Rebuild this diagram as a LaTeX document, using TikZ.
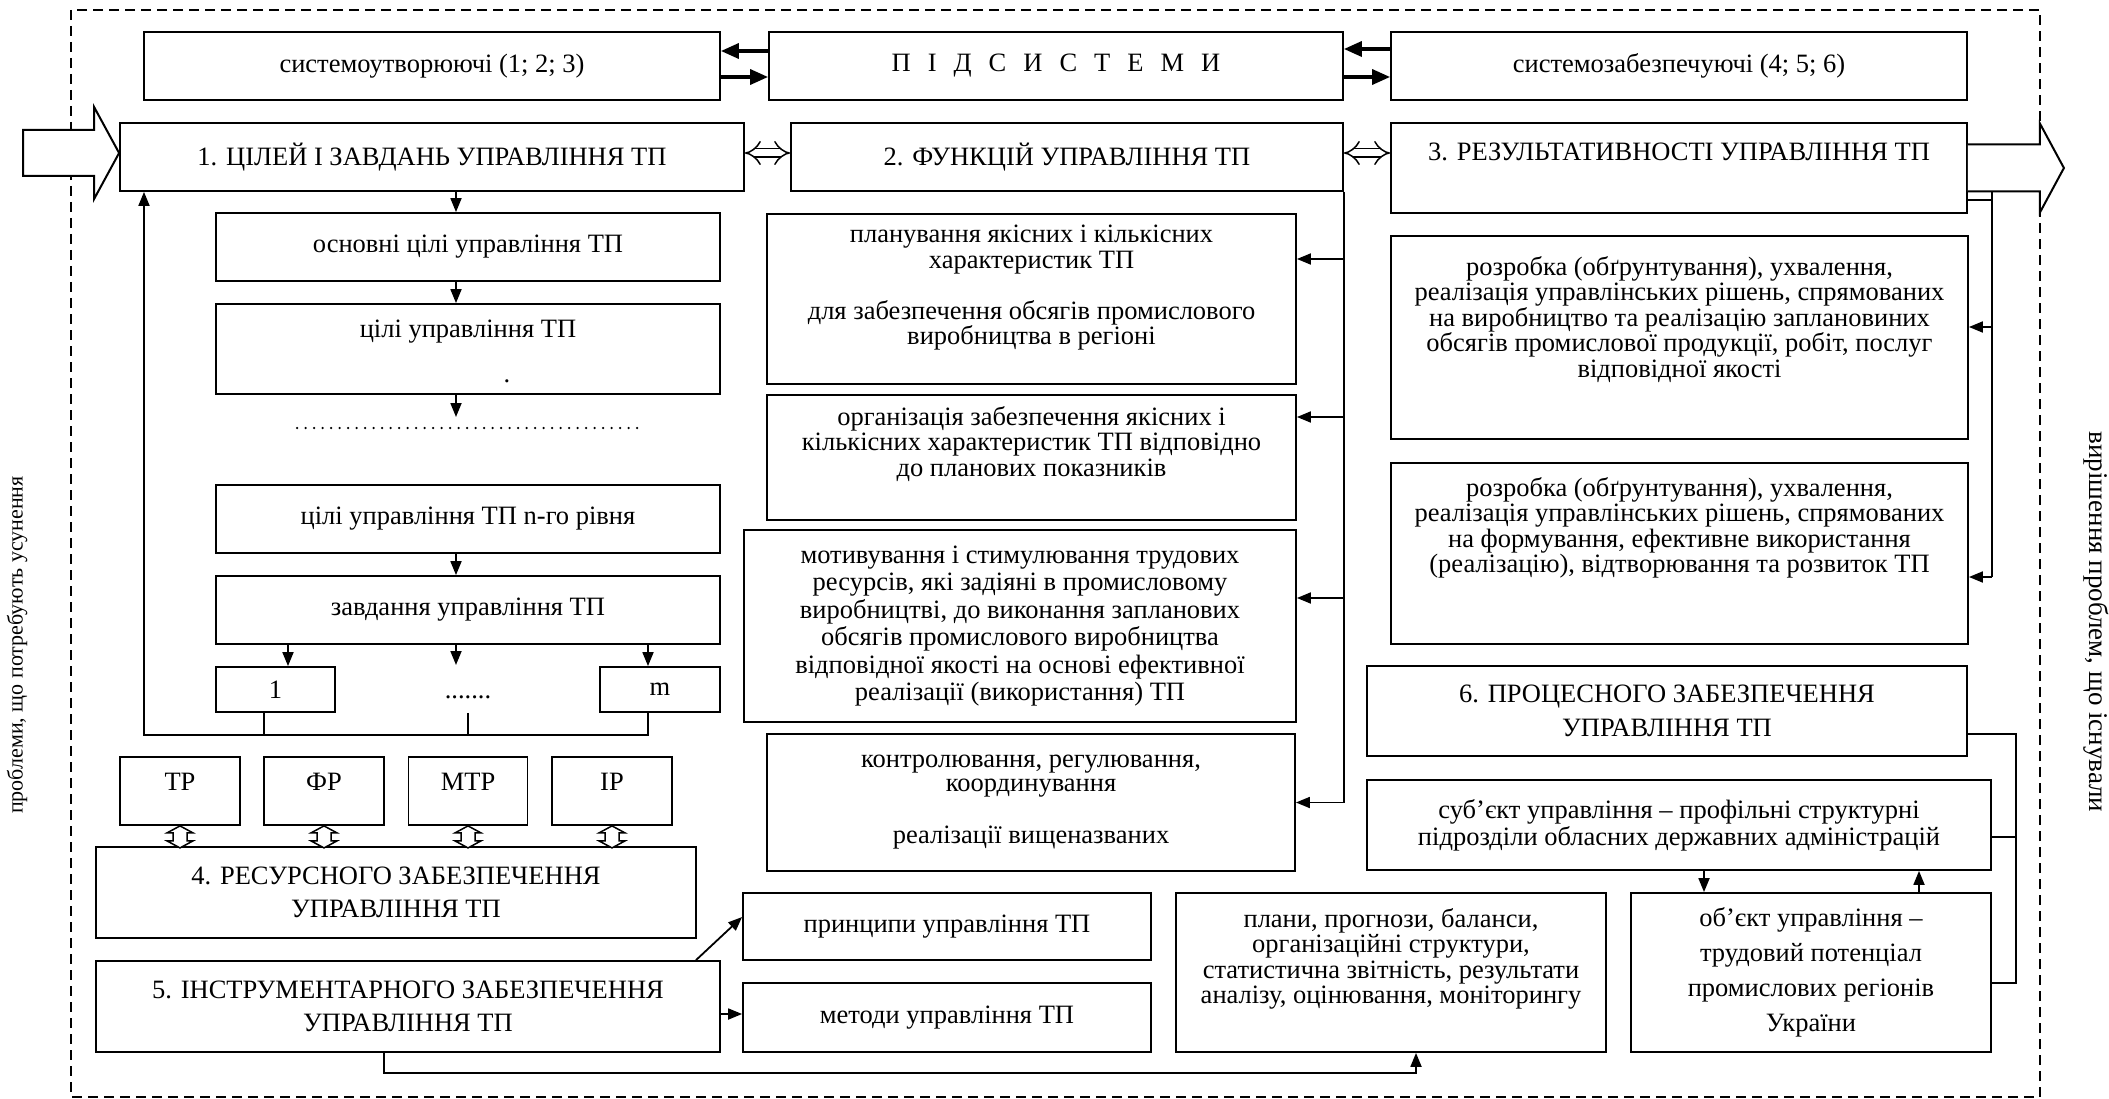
\documentclass[tikz,border=0pt]{standalone}
\usepackage{fontspec}
\setmainfont{Liberation Serif}
\usetikzlibrary{arrows.meta}
\newcommand{\fs}{\fontsize{26.5}{25.5}\selectfont}
\newcommand{\fsw}{\fontsize{26.5}{33.5}\selectfont}
\newcommand{\gapsp}{\hspace{17pt}}
\tikzset{
  box/.style={draw, line width=1.8pt, align=center, inner sep=0pt, font=\fs},
  sz/.style 2 args={minimum width=#1pt, minimum height=#2pt},
  lbl/.style={anchor=north, align=center, inner sep=0pt, font=\fs},
  arr/.style={line width=1.8pt, -{Triangle[length=14pt,width=11pt]}},
  barr/.style={line width=3.5pt, -{Triangle[length=18pt,width=15pt]}},
  ln/.style={line width=1.8pt},
  dbl/.style={double, double distance=7pt, line width=1.5pt, {Implies}-{Implies}},
  bigarr/.style={line width=2pt, fill=white, line join=miter},
  dashframe/.style={line width=2pt, dash pattern=on 10pt off 6pt},
  dotln/.style={line width=2.5pt, line cap=round, dash pattern=on 0pt off 8.5pt}
}
\begin{document}
\begin{tikzpicture}[x=1pt, y=-1pt]
\useasboundingbox (0,0) rectangle (2109,1099);
\draw[dashframe] (71,10) rectangle (2040,1097);

\node[box, sz={576}{68}] (sysA) at (432,66) {системоутворюючі (1; 2; 3)};
\node[box, sz={574}{68}] (subsys) at (1056,66) {П\gapsp І\gapsp Д\gapsp С\gapsp И\gapsp С\gapsp Т\gapsp Е\gapsp М\gapsp И};
\node[box, sz={576}{68}] (sysB) at (1679,66) {системозабезпечуючі (4; 5; 6)};

\node[box, sz={624}{68}] (c1) at (432,157) {1. ЦІЛЕЙ І ЗАВДАНЬ УПРАВЛІННЯ ТП};
\node[box, sz={552}{68}] (c2) at (1067,157) {2. ФУНКЦІЙ УПРАВЛІННЯ ТП};
\node[box, sz={576}{90}, label={[lbl,yshift=-21pt]north:{3. РЕЗУЛЬТАТИВНОСТІ УПРАВЛІННЯ ТП}}] (c3) at (1679,168) {};

\node[box, sz={504}{68}] (g1) at (468,247) {основні цілі управління ТП};
\node[box, sz={504}{90}, label={[lbl,yshift=-16.5pt]north:{цілі управління ТП}},
  label={[anchor=base, inner sep=0pt, font=\fs, xshift=39pt, yshift=12pt]south:.}] (g2) at (468,349) {};
\node[box, sz={504}{68}] (gn) at (468,519) {цілі управління ТП n-го рівня};
\node[box, sz={504}{68}] (tk) at (468,610) {завдання управління ТП};
\node[box, sz={119}{45}] (t1) at (275.5,689.5) {1};
\node[box, sz={120}{45}] (tm) at (660,689.5) {m};
\node[font=\fs, inner sep=0pt] (tdots) at (468,697) {.......};

\node[box, sz={120}{68}, label={[lbl,yshift=-17pt]north:ТР}] (r1) at (180,791) {};
\node[box, sz={120}{68}, label={[lbl,yshift=-17pt]north:ФР}] (r2) at (324,791) {};
\node[box, sz={119}{68}, label={[lbl,yshift=-17pt]north:МТР}] (r3) at (468,791) {};
\node[box, sz={120}{68}, label={[lbl,yshift=-17pt]north:ІР}] (r4) at (612,791) {};
\node[box, sz={600}{91}, font=\fsw] (b4) at (396,892.5) {4. РЕСУРСНОГО ЗАБЕЗПЕЧЕННЯ\\УПРАВЛІННЯ ТП};
\node[box, sz={624}{91}, font=\fsw] (b5) at (408,1006.5) {5. ІНСТРУМЕНТАРНОГО ЗАБЕЗПЕЧЕННЯ\\УПРАВЛІННЯ ТП};

\node[box, sz={529}{170}, label={[lbl,yshift=-12pt]north:{планування якісних і кількісних\\характеристик ТП\\[25.5pt]для забезпечення обсягів промислового\\виробництва в регіоні}}] (f1) at (1031.5,299) {};
\node[box, sz={529}{125}, label={[lbl,yshift=-12pt]north:{організація забезпечення якісних і\\кількісних характеристик ТП відповідно\\до планових показників}}] (f2) at (1031.5,457.5) {};
\node[box, sz={552}{192}, font=\fontsize{26.5}{27.5}\selectfont] (f3) at (1020,626) {мотивування і стимулювання трудових\\ресурсів, які задіяні в промисловому\\виробництві, до виконання запланових\\обсягів промислового виробництва\\відповідної якості на основі ефективної\\реалізації (використання) ТП};
\node[box, sz={528}{137}, font=\fontsize{26.5}{24}\selectfont] (f4) at (1031,802.5) {контролювання, регулювання,\\координування\\[28pt]реалізації вищеназваних};

\node[box, sz={577}{203}, label={[lbl,yshift=-21pt]north:{розробка (обґрунтування), ухвалення,\\реалізація управлінських рішень, спрямованих\\на виробництво та реалізацію заплановиних\\обсягів промислової продукції, робіт, послуг\\відповідної якості}}] (e1) at (1679.5,337.5) {};
\node[box, sz={577}{181}, label={[lbl,yshift=-15pt]north:{розробка (обґрунтування), ухвалення,\\реалізація управлінських рішень, спрямованих\\на формування, ефективне використання\\(реалізацію), відтворювання та розвиток ТП}}] (e2) at (1679.5,553.5) {};
\node[box, sz={600}{90}, font=\fsw] (p6) at (1667,711) {6. ПРОЦЕСНОГО ЗАБЕЗПЕЧЕННЯ\\УПРАВЛІННЯ ТП};
\node[box, sz={624}{90}, font=\fontsize{26.5}{27}\selectfont] (subj) at (1679,825) {суб’єкт управління – профільні структурні\\підрозділи обласних державних адміністрацій};
\node[box, sz={360}{159}, font=\fontsize{26.5}{35}\selectfont] (obj) at (1811,972.5) {об’єкт управління –\\трудовий потенціал\\промислових регіонів\\України};
\node[box, sz={430}{159}, label={[lbl,yshift=-16pt]north:{плани, прогнози, баланси,\\організаційні структури,\\статистична звітність, результати\\аналізу, оцінювання, моніторингу}}] (plan) at (1391,972.5) {};
\node[box, sz={408}{67}] (princ) at (947,926.5) {принципи управління ТП};
\node[box, sz={408}{69}] (meth) at (947,1017.5) {методи управління ТП};

\node[font=\fontsize{22}{24}\selectfont, rotate=90] (probl) at (17,645) {проблеми, що потребують усунення};
\node[font=\fontsize{27}{28}\selectfont, rotate=-90] (solv) at (2096,622) {вирішення проблем, що існували};

\draw[barr] ([yshift=15pt]subsys.west) -- ([yshift=15pt]sysA.east);
\draw[barr] ([yshift=-11pt]sysA.east) -- ([yshift=-11pt]subsys.west);
\draw[barr] ([yshift=17pt]sysB.west) -- ([yshift=17pt]subsys.east);
\draw[barr] ([yshift=-11pt]subsys.east) -- ([yshift=-11pt]sysB.west);

\coordinate (d1) at ([yshift=4pt]c1.east);
\coordinate (d2) at ([yshift=4pt]c2.east);
\draw[dbl] (d1) -- (d1 -| c2.west);
\draw[dbl] (d2) -- (d2 -| c3.west);

\draw[bigarr] ([yshift=4pt]c1.west) -- ++(-25,-46) -- ++(0,23) -- ++(-71,0) -- ++(0,46) -- ++(71,0) -- ++(0,23) -- cycle;
\draw[bigarr] ([yshift=23.5pt]c3.east) -- ++(72,0) -- ++(0,-21) -- ++(24,44.5) -- ++(-24,44.5) -- ++(0,-21) -- ++(-72,0);

\coordinate (ax) at (456,0);
\coordinate (dlL) at (297,428);
\coordinate (dlR) at (639,428);
\coordinate (dlT) at (456,417);
\draw[arr] (c1.south -| ax) -- (g1.north -| ax);
\draw[arr] (g1.south -| ax) -- (g2.north -| ax);
\draw[arr] (g2.south -| ax) -- (dlT);
\draw[dotln] (dlL) -- (dlR);
\draw[arr] (gn.south -| ax) -- (tk.north -| ax);

\coordinate (a1) at (288,0);
\coordinate (am) at (648,0);
\coordinate (adt) at (456,665);
\coordinate (l1) at (264,0);
\coordinate (fb) at (144,735);
\draw[arr] (tk.south -| a1) -- (t1.north -| a1);
\draw[arr] (tk.south -| ax) -- (adt);
\draw[arr] (tk.south -| am) -- (tm.north -| am);
\draw[ln] (t1.south -| l1) -- (fb -| l1);
\draw[ln] (tdots.south |- t1.south) -- (tdots.south |- fb);
\draw[arr] (tm.south -| am) |- (fb) -- (fb |- c1.south);

\foreach \r in {r1,r2,r3,r4} {
  \coordinate (u) at (\r.south);
  \draw[line width=1.5pt, fill=white] (u) -- ++(-13,7) -- ++(6,0) -- ++(0,8) -- ++(-6,0) -- ++(13,7)
    -- ++(13,-7) -- ++(-6,0) -- ++(0,-8) -- ++(6,0) -- cycle;
}

\coordinate (p5) at (696,0);
\coordinate (m5) at ([yshift=3.5pt]meth.west);
\coordinate (pb) at (384,1073);
\coordinate (pl5) at (1416,0);
\draw[arr] (b5.north -| p5) -- ([yshift=9.5pt]princ.west);
\draw[arr] (m5 -| b5.east) -- (m5);
\draw[arr] (b5.south -| pb) |- (pb -| pl5) -- (plan.south -| pl5);

\draw[ln] (c2.south east) -- (c2.south east |- f4.east);
\foreach \f/\s in {f1/40pt,f2/40.5pt,f3/28pt,f4/0pt} {
  \coordinate (q) at ([yshift=\s]\f.east);
  \draw[arr] (q -| c2.east) -- (q);
}

\coordinate (rt) at (1992,0);
\coordinate (c3r) at ([yshift=-32pt]c3.east);
\coordinate (sb) at ([yshift=-23.5pt]c3.east);
\coordinate (e1a) at ([yshift=10.5pt]e1.east);
\coordinate (e2a) at ([yshift=-23.5pt]e2.east);
\draw[ln] (c3r) -- (c3r -| rt);
\draw[ln] (sb -| rt) -- (e2a -| rt);
\draw[arr] (e1a -| rt) -- (e1a);
\draw[arr] (e2a -| rt) -- (e2a);

\coordinate (rr) at (2016,0);
\coordinate (p6a) at ([yshift=-23pt]p6.east);
\coordinate (oa) at ([yshift=-10.5pt]obj.east);
\coordinate (sa) at ([yshift=-12pt]subj.east);
\coordinate (sd) at (1704,0);
\coordinate (su) at (1919,0);
\draw[ln] (p6a) -- (p6a -| rr) -- (oa -| rr) -- (oa);
\draw[ln] (sa) -- (sa -| rr);
\draw[arr] (subj.south -| sd) -- (obj.north -| sd);
\draw[arr] (obj.north -| su) -- (subj.south -| su);
\end{tikzpicture}
\end{document}
